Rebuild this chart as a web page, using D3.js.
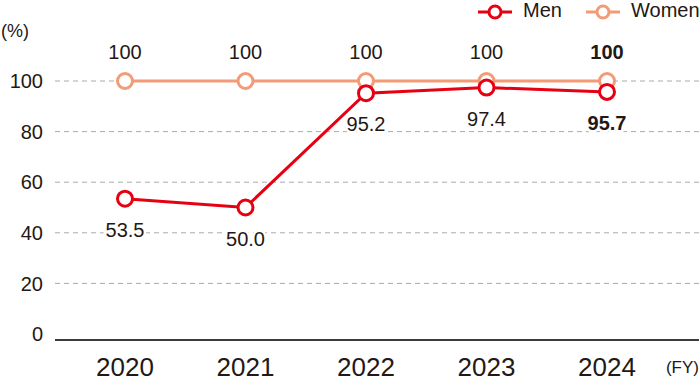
<!DOCTYPE html>
<html>
<head>
<meta charset="utf-8">
<script src="https://d3js.org/d3.v7.min.js"></script>
<style>
  body { margin: 0; background: #fff; }
  text { font-family: "Liberation Sans", Arial, sans-serif; fill: #231815; }
</style>
</head>
<body>
<svg id="chart" width="700" height="388"></svg>
<script>
const years = ["2020", "2021", "2022", "2023", "2024"];
const men = [53.5, 50.0, 95.2, 97.4, 95.7];
const women = [100, 100, 100, 100, 100];
const menLabels = ["53.5", "50.0", "95.2", "97.4", "95.7"];
const womenLabels = ["100", "100", "100", "100", "100"];
const yTicks = [0, 20, 40, 60, 80, 100];

const svg = d3.select("#chart");
const menColor = "#e60012";
const womenColor = "#f29b76";

const x = d3.scalePoint().domain(years).range([125, 607]);
const y = d3.scaleLinear().domain([0, 100]).range([334, 81]);

// gridlines
yTicks.filter(d => d > 0).forEach(d => {
  svg.append("line")
    .attr("x1", 55).attr("x2", 700)
    .attr("y1", y(d)).attr("y2", y(d))
    .attr("stroke", "#aaa")
    .attr("stroke-width", 1)
    .attr("stroke-dasharray", "5,4");
});

// y labels
yTicks.forEach(d => {
  svg.append("text")
    .attr("x", 43).attr("y", y(d) + 2)
    .attr("text-anchor", "end")
    .attr("dominant-baseline", "middle")
    .attr("font-size", 20)
    .text(d);
});

// base line
svg.append("line")
  .attr("x1", 55).attr("x2", 699)
  .attr("y1", 340).attr("y2", 340)
  .attr("stroke", "#3e3a39").attr("stroke-width", 2);

// x labels
years.forEach(d => {
  svg.append("text")
    .attr("x", x(d)).attr("y", 376)
    .attr("text-anchor", "middle")
    .attr("font-size", 26)
    .text(d);
});

svg.append("text").attr("x", 1).attr("y", 37).attr("font-size", 18).text("(%)");
svg.append("text").attr("x", 699).attr("y", 373).attr("text-anchor", "end").attr("font-size", 17).text("(FY)");

const line = d3.line().x((d, i) => x(years[i])).y(d => y(d));

function series(vals, color) {
  svg.append("path")
    .datum(vals)
    .attr("d", line)
    .attr("fill", "none")
    .attr("stroke", color)
    .attr("stroke-width", 3);
  vals.forEach((v, i) => {
    svg.append("circle")
      .attr("cx", x(years[i])).attr("cy", y(v))
      .attr("r", 7.5)
      .attr("fill", "#fff")
      .attr("stroke", color)
      .attr("stroke-width", 3);
  });
}

series(women, womenColor);
series(men, menColor);

function labels(vals, texts, dy) {
  vals.forEach((v, i) => {
    svg.append("text")
      .attr("x", x(years[i])).attr("y", y(v) + dy)
      .attr("text-anchor", "middle")
      .attr("dominant-baseline", "middle")
      .attr("font-size", 20)
      .attr("font-weight", i === vals.length - 1 ? "bold" : "normal")
      .attr("stroke", "#fff").attr("stroke-width", 5)
      .attr("paint-order", "stroke")
      .text(texts[i]);
  });
}
labels(women, womenLabels, -27);
labels(men, menLabels, 33);

// legend
const legend = [["Men", menColor, 478], ["Women", womenColor, 586]];
legend.forEach(([name, color, lx]) => {
  svg.append("line")
    .attr("x1", lx).attr("x2", lx + 34)
    .attr("y1", 12).attr("y2", 12)
    .attr("stroke", color).attr("stroke-width", 3);
  svg.append("circle")
    .attr("cx", lx + 17).attr("cy", 12).attr("r", 6)
    .attr("fill", "#fff").attr("stroke", color).attr("stroke-width", 3);
  svg.append("text")
    .attr("x", lx + 45).attr("y", 12)
    .attr("dominant-baseline", "middle")
    .attr("font-size", 20)
    .text(name);
});
</script>
</body>
</html>
